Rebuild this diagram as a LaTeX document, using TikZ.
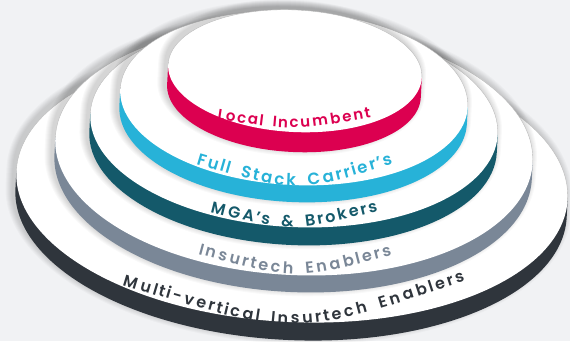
\documentclass[tikz,border=0pt]{standalone}
\usepackage{fontspec}
\usetikzlibrary{decorations.text}
\newfontfamily\discfont{Poppins}[UprightFont=* SemiBold]

\definecolor{bgC}{HTML}{F1F2F4}
\definecolor{localC}{HTML}{DC0050}
\definecolor{carrierC}{HTML}{27B2D8}
\definecolor{brokerC}{HTML}{14596A}
\definecolor{enablerC}{HTML}{7A8797}
\definecolor{multiC}{HTML}{2F353C}

\tikzstyle{discface} = [fill=white]
\tikzstyle{discrim} = [draw=black!28, line width=0.35pt]
\tikzstyle{discshadow} = [fill=black, fill opacity=0.022]

% #1 cx, #2 cy, #3 x radius, #4 y radius, #5 height, #6 colour
\newcommand{\stackdisc}[6]{%
  \begin{scope}[shift={(#1,#2)}, rotate=-3]
    \foreach \k in {1,...,7}
      \fill[discshadow] ({-3-(#3+\k)},-3) -- ({-3-(#3+\k)},#5-3)
        arc[start angle=180, end angle=0, x radius=#3+\k, y radius=#4+\k]
        -- ({-3+#3+\k},-3)
        arc[start angle=0, end angle=-180, x radius=#3+\k, y radius=#4+\k] -- cycle;
    \fill[#6] (-#3,0) -- (-#3,#5)
      arc[start angle=180, end angle=0, x radius=#3, y radius=#4] -- (#3,0) -- cycle;
    \fill[discface] (0,0) ellipse [x radius=#3, y radius=#4];
    \draw[discrim] (#3,0) arc[start angle=0, end angle=-180, x radius=#3, y radius=#4];
  \end{scope}
}

% #1 start, #2 control, #3 end, #4 colour, #5 size, #6 text
\newcommand{\disclabel}[6]{%
  \path[decorate, decoration={text effects along path, text={#6},
      text effects/.cd, text along path, fit text to path,
      every character/.append style={font=\discfont\fontsize{#5}{#5}\selectfont,
        text=#4, inner sep=0pt}}]
    #1 .. controls #2 .. #3;
}

\begin{document}
\begin{tikzpicture}[x=1pt, y=-1pt]
  \useasboundingbox (0,0) rectangle (570,341);
  \fill[bgC] (0,0) rectangle (570,341);

  % discs, from the bottom one up
  \stackdisc{292}{185}{276}{137}{18}{multiC}
  \stackdisc{294}{150}{239}{125}{17}{enablerC}
  \stackdisc{294}{124}{204}{103}{18}{brokerC}
  \stackdisc{294}{98}{174}{87}{17}{carrierC}
  \stackdisc{295}{71}{127}{61}{20}{localC}

  % labels along the front rims
  \disclabel{(217,119)}{(293.5,131)}{(371,117.5)}{localC}{15}{Local{\ }{\ }Incumbent}
  \disclabel{(196,164)}{(295.5,193.5)}{(393,164)}{carrierC}{16.5}{Full{\ }{\ }Stack{\ }{\ }Carrier’s}
  \disclabel{(210,212)}{(292,232.5)}{(378,211)}{brokerC}{16}{MGA’s{\ }{\ }{\&}{\ }{\ }Brokers}
  \disclabel{(198,254)}{(295,280.5)}{(392,255)}{enablerC}{16}{Insurtech{\ }{\ }Enablers}
  \disclabel{(122,285)}{(295.5,337.5)}{(465,281)}{multiC}{16}{Multi-vertical{\ }{\ }Insurtech{\ }{\ }Enablers}
\end{tikzpicture}
\end{document}
